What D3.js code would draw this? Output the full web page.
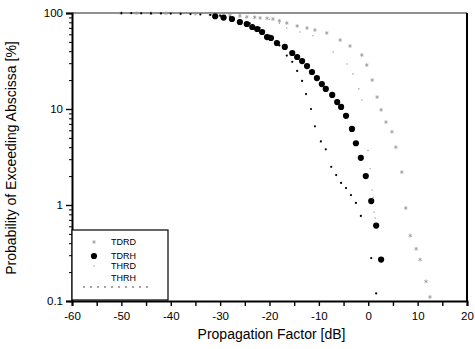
<!DOCTYPE html>
<html>
<head>
<meta charset="utf-8">
<script src="https://cdn.jsdelivr.net/npm/d3@7"></script>
<style>
  body { margin: 0; background: #fff; }
  svg { font-family: "Liberation Sans", Arial, sans-serif; }
</style>
</head>
<body>
<figure id="chart" style="margin:0"></figure>
<script>
// series values: dB and % exceeded
const tdrdX = [-50, -47, -44, -41, -38, -35, -32, -30, -28, -26, -24.6, -23, -21.9, -20.5, -19.3, -18, -16.5, -14.4, -12.4, -10.8, -8.4, -5.7, -3.7, -1.3, -0.3, 0.8, 1.8, 2.6, 3.6, 4.8, 5.6, 6.8, 7.6, 8.5, 9.7, 10.5, 11.7, 12.5];
const tdrdY = [99.8, 99.7, 99.5, 99.3, 99, 98.5, 97.5, 96.5, 95, 93, 91, 90, 88.7, 88, 86.6, 83, 78.7, 73.2, 69.8, 66.5, 61.9, 52.3, 45.3, 36.5, 28.7, 20, 13.3, 9.8, 7.3, 5.8, 4, 2.2, 0.93, 0.48, 0.35, 0.27, 0.16, 0.11];

const tdrhX = [-31, -29.3, -27.6, -26, -24.6, -23.5, -22.5, -21.5, -20.5, -19.7, -18.5, -16.9, -15.4, -14.4, -13.4, -12.4, -11.4, -10.4, -9.4, -8.6, -7.3, -6.3, -5.5, -4.5, -3.3, -2.5, -1.5, -0.5, 0.6, 1.6, 2.6];
const tdrhY = [92.5, 89.5, 86.6, 80.6, 76.8, 71.5, 68.1, 63.4, 56.2, 54.9, 48.7, 44.3, 38.3, 34.8, 31.6, 28, 24.3, 21, 18.2, 16.2, 14, 11.8, 10.5, 8.5, 6.2, 4.4, 3.1, 2, 1.1, 0.61, 0.27];

const thrdX = [-48, -44, -40, -36, -32, -29, -26, -23, -20, -18, -16.5, -13.8, -11.2, -7.1, -4.3, -3.1, -1.9, -1.3, -0.05, 0.4, 0.8, 1.0, 1.2, 1.4];
const thrdY = [99.9, 99.8, 99.6, 99.3, 98.5, 97.5, 95.5, 92, 86, 78, 69.8, 63.4, 58, 39.3, 29.4, 23.2, 16.2, 12.4, 3.7, 2.4, 1.43, 1.2, 0.84, 0.73];

const thrhX = [-50, -48, -46, -44, -42, -40, -38, -36, -34, -32, -30, -28, -26, -24, -22, -20, -18, -16.5, -15.4, -14.4, -13.4, -12.6, -11.6, -10.8, -9.6, -8.6, -7.5, -6.5, -5.5, -4.5, -3.5, -2.5, -1.5, 0.6, 1.6];
const thrhY = [99.6, 99.5, 99.3, 99.1, 98.9, 98.6, 98.2, 97.5, 96.5, 95.5, 93.5, 90, 84, 78, 70, 58, 46, 36, 31, 24.9, 19.6, 14.3, 10, 6.6, 4.6, 3.8, 2.5, 2.05, 1.7, 1.5, 1.27, 1.05, 0.77, 0.28, 0.12];

const xTicks = [-60, -50, -40, -30, -20, -10, 0, 10, 20];
const yTicks = [0.1, 1, 10, 100];
const legendNames = ["TDRD", "TDRH", "THRD", "THRH"];

const W = 475, H = 349;
const mLeft = 72, mRight = 467, mTop = 13, mBottom = 301;

const svg = d3.select("#chart").append("svg")
  .attr("width", W).attr("height", H);

const x = d3.scaleLinear().domain([-60, 20]).range([mLeft, mRight]);
const y = d3.scaleLog().domain([0.1, 100]).range([mBottom, mTop]);

// x axis
svg.append("g")
  .attr("transform", "translate(0," + mBottom + ")")
  .call(d3.axisBottom(x).tickValues(d3.range(-60, 21, 5)).tickSize(5)
    .tickFormat(d => xTicks.includes(d) ? d : ""))
  .call(g => g.select(".domain").attr("stroke-width", 2))
  .call(g => g.selectAll(".tick line").attr("stroke-width", 1.4))
  .call(g => g.selectAll("text").attr("font-size", 11.5).attr("fill", "#000")
    .attr("dy", "0.95em").attr("font-family", "Liberation Sans, Arial"));

// y axis (log)
const minor = [];
[0.1, 1, 10].forEach(b => { for (let k = 2; k < 10; k++) minor.push(b * k); });
svg.append("g")
  .attr("transform", "translate(" + mLeft + ",0)")
  .call(d3.axisLeft(y).tickValues(yTicks).tickSize(6).tickFormat(d => String(d)))
  .call(g => g.select(".domain").attr("stroke-width", 2))
  .call(g => g.selectAll(".tick line").attr("stroke-width", 1.4))
  .call(g => g.selectAll("text").attr("font-size", 11.5).attr("fill", "#000")
    .attr("font-family", "Liberation Sans, Arial"));
svg.append("g")
  .attr("transform", "translate(" + mLeft + ",0)")
  .call(d3.axisLeft(y).tickValues(minor).tickSize(3).tickFormat(""))
  .call(g => g.select(".domain").remove());

// top and right frame
svg.append("line").attr("x1", mLeft).attr("x2", mRight).attr("y1", mTop).attr("y2", mTop)
  .attr("stroke", "#222").attr("stroke-width", 1.2);
svg.append("line").attr("x1", mRight).attr("x2", mRight).attr("y1", mTop).attr("y2", mBottom)
  .attr("stroke", "#000").attr("stroke-width", 2);

// axis titles
svg.append("text").attr("x", (mLeft + mRight) / 2 + 2).attr("y", 339)
  .attr("text-anchor", "middle").attr("font-size", 14)
  .text("Propagation Factor [dB]");
svg.append("text")
  .attr("transform", "translate(16," + ((mTop + mBottom) / 2 + 1) + ") rotate(-90)")
  .attr("text-anchor", "middle").attr("font-size", 14)
  .text("Probability of Exceeding Abscissa [%]");

const zip = (xs, ys) => xs.map((v, i) => [v, ys[i]]);
const plot = svg.append("g");

// TDRD: grey asterisks
plot.selectAll(".tdrd").data(zip(tdrdX, tdrdY)).enter().append("path")
  .attr("transform", d => "translate(" + x(d[0]) + "," + y(d[1]) + ")")
  .attr("d", d3.symbol(d3.symbolAsterisk, 10))
  .attr("fill", "none").attr("stroke", "#999").attr("stroke-width", 0.8);

// THRD: faint grey dots
plot.selectAll(".thrd").data(zip(thrdX, thrdY)).enter().append("circle")
  .attr("cx", d => x(d[0])).attr("cy", d => y(d[1])).attr("r", 0.8)
  .attr("fill", "#aaa");

// TDRH: big black dots
plot.selectAll(".tdrh").data(zip(tdrhX, tdrhY)).enter().append("circle")
  .attr("cx", d => x(d[0])).attr("cy", d => y(d[1])).attr("r", 3.1)
  .attr("fill", "#000");

// THRH: small black dots
plot.selectAll(".thrh").data(zip(thrhX, thrhY)).enter().append("circle")
  .attr("cx", d => x(d[0])).attr("cy", d => y(d[1])).attr("r", 1.1)
  .attr("fill", "#000");

// legend
const lg = svg.append("g");
lg.append("rect").attr("x", mLeft).attr("y", 230).attr("width", 96).attr("height", 70)
  .attr("fill", "#fff").attr("stroke", "#000").attr("stroke-width", 1.2);
const rowY = [242, 256, 266, 278];
lg.selectAll("text").data(legendNames).enter().append("text")
  .attr("x", 111).attr("y", (d, i) => rowY[i]).attr("dy", "0.35em")
  .attr("font-size", 9).text(d => d);
lg.append("path").attr("transform", "translate(94," + rowY[0] + ")")
  .attr("d", d3.symbol(d3.symbolAsterisk, 10))
  .attr("fill", "none").attr("stroke", "#999").attr("stroke-width", 0.8);
lg.append("circle").attr("cx", 94).attr("cy", rowY[1]).attr("r", 3.1).attr("fill", "#000");
lg.append("circle").attr("cx", 94).attr("cy", rowY[2]).attr("r", 0.8).attr("fill", "#aaa");
lg.selectAll(".ld").data(d3.range(84, 152, 7)).enter().append("circle")
  .attr("cx", d => d).attr("cy", 287).attr("r", 0.8).attr("fill", "#333");
</script>
</body>
</html>
